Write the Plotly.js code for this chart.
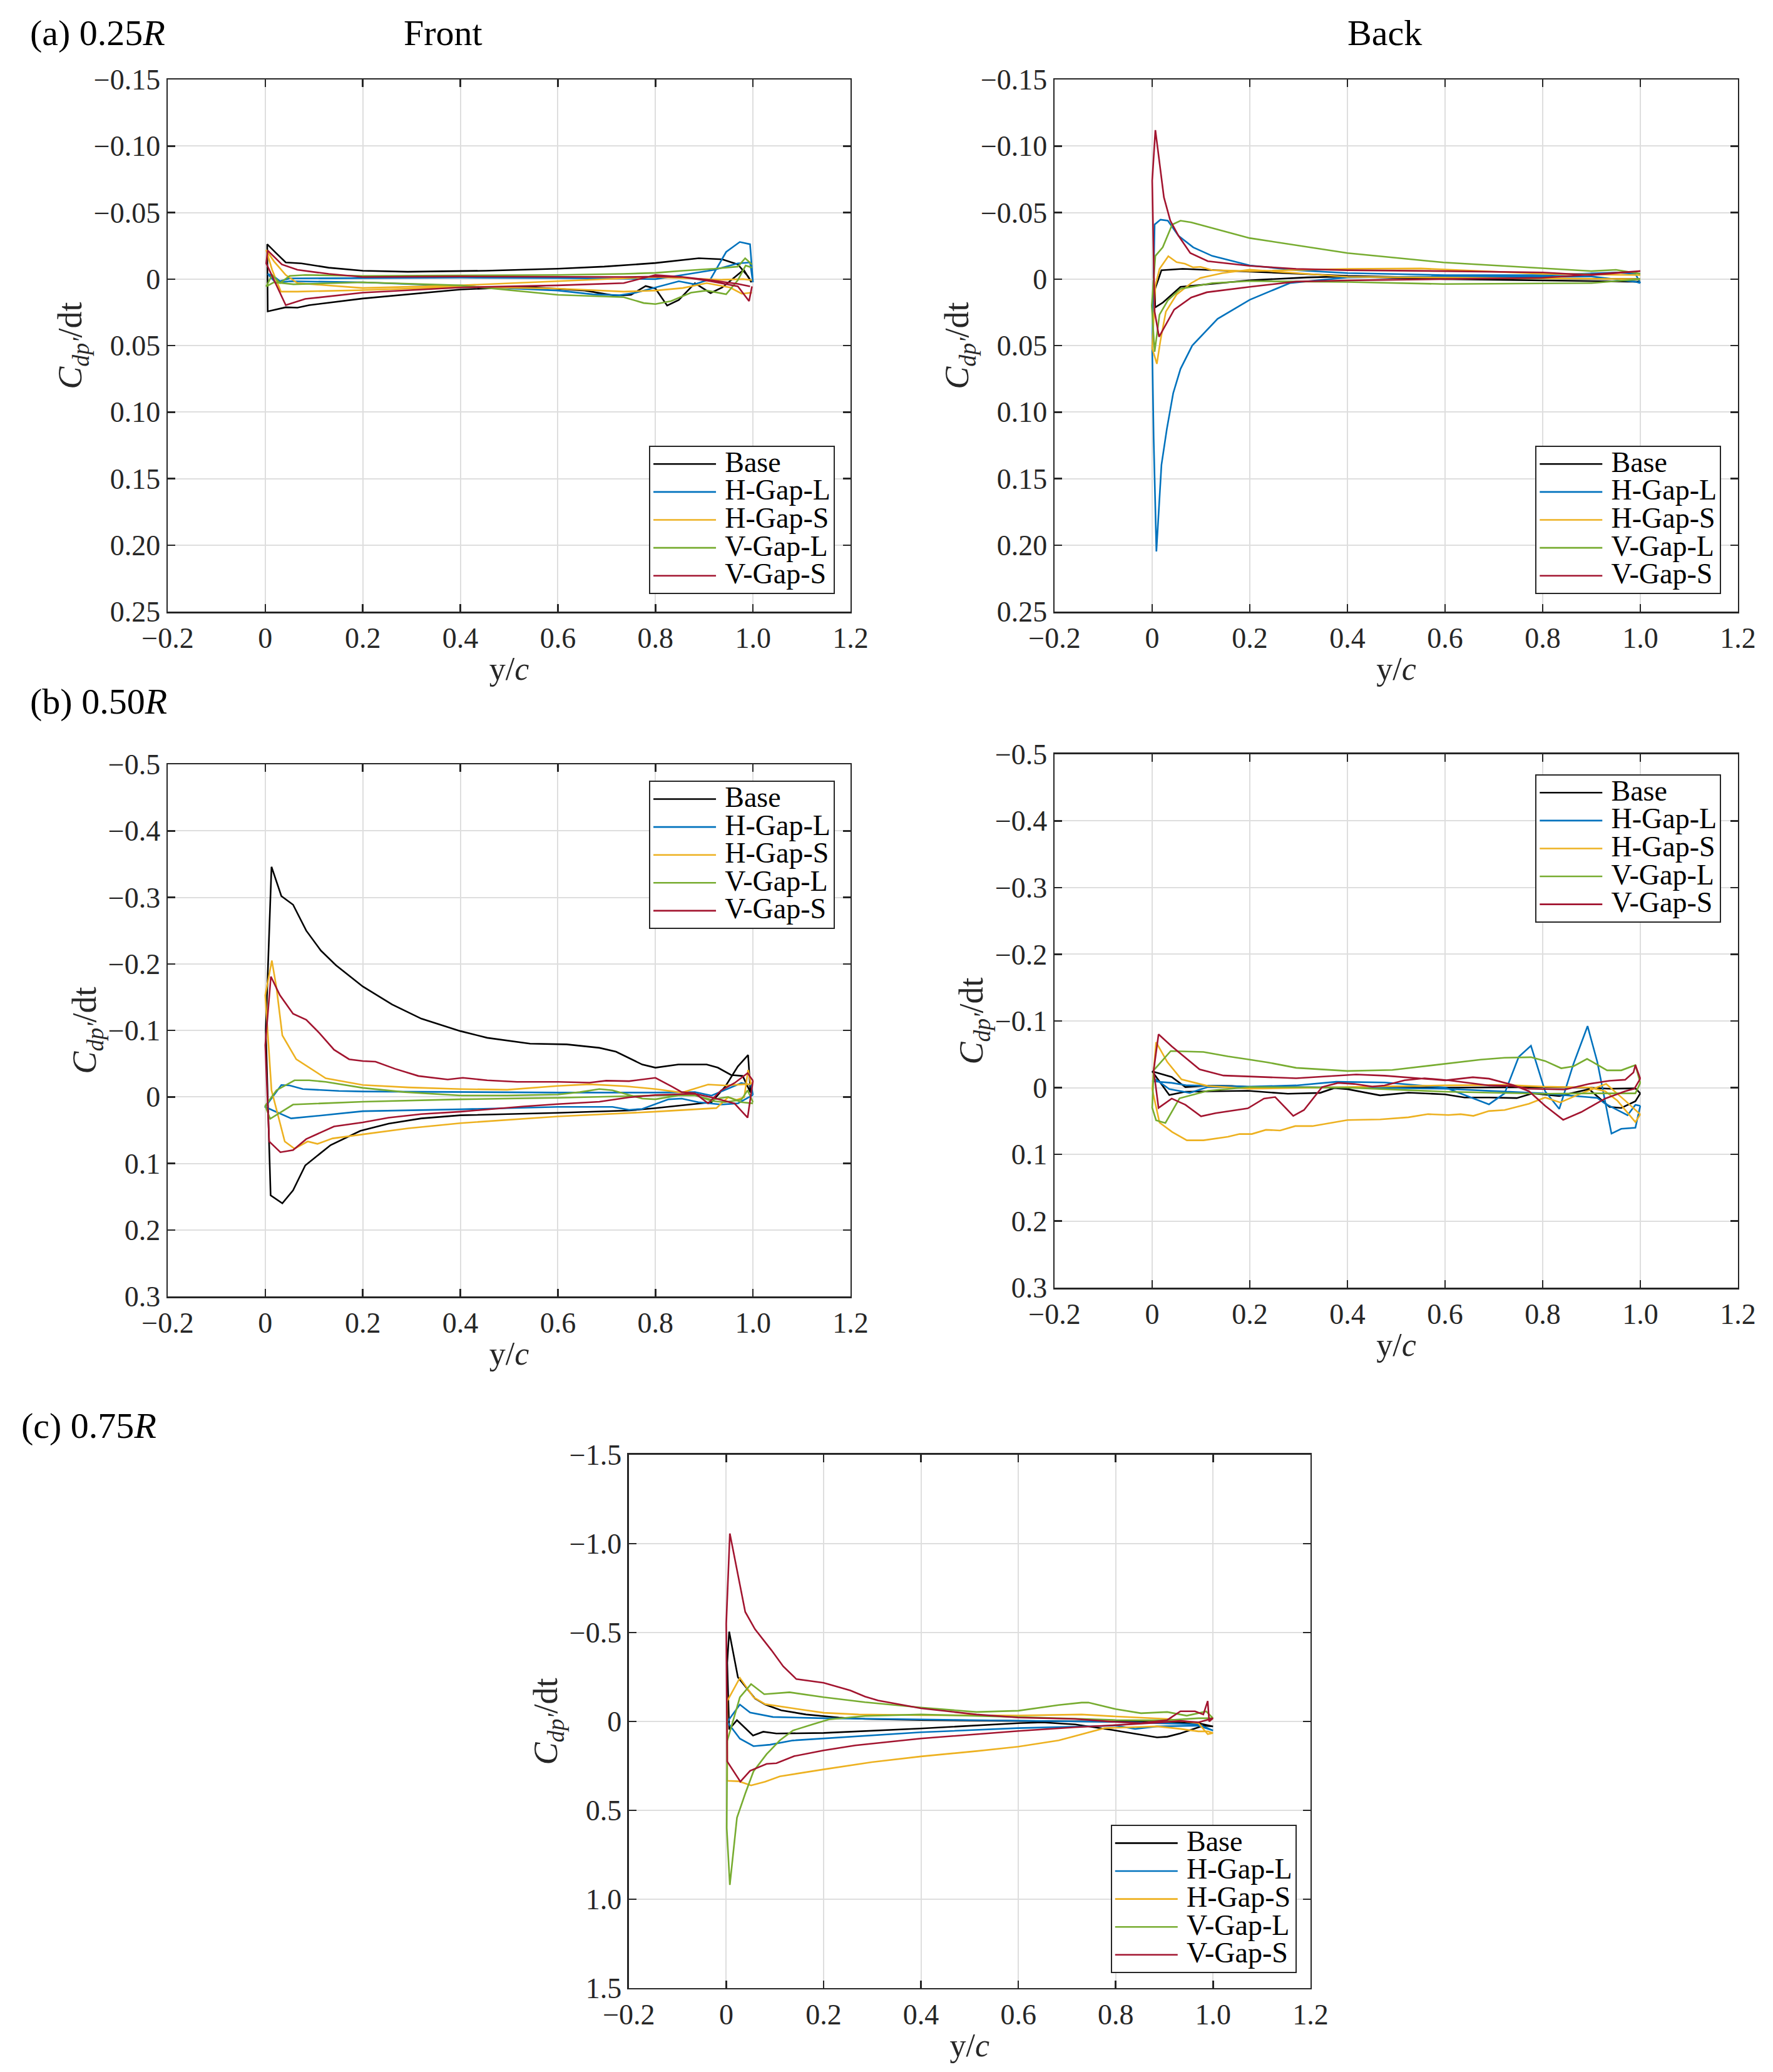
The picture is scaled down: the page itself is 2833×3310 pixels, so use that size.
<!DOCTYPE html>
<html>
<head>
<meta charset="utf-8">
<script src="https://cdn.plot.ly/plotly-3.0.1.min.js"></script>
<style>
  html, body { margin: 0; padding: 0; background: #fff; }
  #chart { width: 2833px; height: 3310px; }
</style>
</head>
<body>
<div id="chart"></div>
<script>
// series names, shared by every panel
var seriesNames = ['Base', 'H-Gap-L', 'H-Gap-S', 'V-Gap-L', 'V-Gap-S'];

// x ticks (y/c)
var xTickVals = [-0.2, 0, 0.2, 0.4, 0.6, 0.8, 1.0, 1.2];
var xTickText = ['\u22120.2', '0', '0.2', '0.4', '0.6', '0.8', '1.0', '1.2'];

// y ticks per row
var yTickValsA = [-0.15, -0.10, -0.05, 0, 0.05, 0.10, 0.15, 0.20, 0.25];
var yTickTextA = ['\u22120.15', '\u22120.10', '\u22120.05', '0', '0.05', '0.10', '0.15', '0.20', '0.25'];
var yTickValsB = [-0.5, -0.4, -0.3, -0.2, -0.1, 0, 0.1, 0.2, 0.3];
var yTickTextB = ['\u22120.5', '\u22120.4', '\u22120.3', '\u22120.2', '\u22120.1', '0', '0.1', '0.2', '0.3'];
var yTickValsC = [-1.5, -1.0, -0.5, 0, 0.5, 1.0, 1.5];
var yTickTextC = ['\u22121.5', '\u22121.0', '\u22120.5', '0', '0.5', '1.0', '1.5'];

/* ---- (a) 0.25R, front ---- */
var aF_base_x = [0.997,0.981,0.937,0.913,0.881,0.848,0.824,0.8,0.78,0.75,0.719,0.655,0.534,0.4,0.2,0.09,0.066,0.042,0.005,0.004,0.022,0.042,0.074,0.13,0.2,0.292,0.453,0.6,0.695,0.8,0.889,0.937,0.969,0.99,0.997];
var aF_base_y = [0.0024,-0.007,0.0063,0.0105,0.0031,0.0157,0.0199,0.0071,0.0052,0.0118,0.0125,0.0086,0.0058,0.0078,0.0146,0.0196,0.0215,0.0212,0.0243,-0.0262,-0.0196,-0.0125,-0.0118,-0.0086,-0.0063,-0.0055,-0.0063,-0.0078,-0.0094,-0.0121,-0.0157,-0.0149,-0.011,-0.002,0.0024];
var aF_hgl_x = [1.0,0.994,0.973,0.945,0.913,0.88,0.848,0.8,0.76,0.727,0.671,0.6,0.4,0.2,0.05,0.022,0.005,0.018,0.03,0.05,0.2,0.4,0.6,0.8,0.856,0.921,0.969,0.994,1.0];
var aF_hgl_y = [0.0024,-0.0262,-0.0279,-0.0204,0.0,0.0039,0.0016,0.0063,0.0102,0.0121,0.0114,0.0086,0.0052,0.0024,0.0016,0.003,-0.0039,-0.002,0.0016,-0.0005,-0.0008,-0.0011,-0.0008,0.0,-0.0031,-0.007,-0.0118,-0.0125,0.0024];
var aF_hgs_x = [0.998,0.977,0.953,0.905,0.856,0.8,0.735,0.6,0.4,0.2,0.066,0.032,0.014,0.002,0.018,0.042,0.066,0.2,0.4,0.6,0.8,0.937,0.98,0.998];
var aF_hgs_y = [0.0102,0.011,0.0063,0.003,0.0067,0.0086,0.0094,0.0071,0.0058,0.0083,0.0094,0.0094,-0.007,-0.0219,-0.0133,-0.0031,0.003,0.0067,0.0047,0.0016,-0.0016,0.0005,0.0,0.0008];
var aF_vgl_x = [0.998,0.985,0.969,0.945,0.905,0.873,0.832,0.8,0.776,0.735,0.6,0.4,0.2,0.058,0.018,0.002,0.014,0.03,0.05,0.082,0.2,0.4,0.6,0.735,0.8,0.856,0.921,0.969,0.984,0.998];
var aF_vgl_y = [-0.0086,-0.0102,0.0008,0.0114,0.0086,0.0102,0.0165,0.0188,0.018,0.0136,0.0118,0.0047,0.0024,0.0039,0.0024,0.0055,-0.0031,0.003,-0.0024,-0.0031,-0.0024,-0.0028,-0.0031,-0.0039,-0.0047,-0.0063,-0.0078,-0.0094,-0.0157,-0.011];
var aF_vgs_x = [0.998,0.992,0.969,0.913,0.856,0.8,0.735,0.6,0.4,0.2,0.082,0.042,0.002,0.005,0.034,0.066,0.13,0.2,0.4,0.6,0.735,0.8,0.856,0.913,0.969,0.994];
var aF_vgs_y = [0.0055,0.0165,0.0055,0.0016,-0.0016,-0.0031,0.003,0.0047,0.0063,0.0102,0.0149,0.0196,-0.0118,-0.0215,-0.011,-0.007,-0.0039,-0.0016,-0.002,-0.0016,-0.0016,-0.0019,-0.0016,0.0008,0.0036,0.0055];

/* ---- (a) 0.25R, back ---- */
var aB_base_x = [1.0,0.8,0.6,0.468,0.4,0.317,0.2,0.058,0.022,0.006,0.006,0.019,0.0625,0.2,0.4,0.6,0.8,1.0];
var aB_base_y = [0.002,0.001,0.0,-0.0013,-0.002,-0.0013,0.0009,0.0058,0.0176,0.0213,0.0073,-0.0067,-0.0077,-0.0056,-0.0024,-0.001,-0.0005,0.0];
var aB_hgl_x = [1.0,0.99,0.9,0.6,0.4,0.282,0.2,0.134,0.082,0.058,0.043,0.03,0.019,0.0086,0.003,0.0,0.005,0.017,0.032,0.054,0.084,0.123,0.2,0.295,0.4,0.6,0.8,0.95,0.99,1.0];
var aB_hgl_y = [0.003,0.002,-0.002,-0.002,-0.0013,0.003,0.0155,0.0299,0.05,0.0675,0.0858,0.1127,0.1396,0.2047,0.12,0.052,-0.041,-0.0447,-0.0439,-0.0325,-0.0239,-0.0174,-0.0103,-0.0067,-0.0045,-0.003,-0.003,-0.005,-0.004,0.003];
var aB_hgs_x = [1.0,0.6,0.4,0.2,0.144,0.099,0.08,0.05,0.028,0.017,0.0095,0.0,0.0065,0.015,0.033,0.05,0.067,0.084,0.099,0.123,0.2,0.4,0.55,0.8,1.0];
var aB_hgs_y = [0.0,-0.001,-0.0017,-0.0071,-0.0045,-0.0009,0.003,0.0116,0.0245,0.046,0.0637,0.052,0.005,-0.0077,-0.0172,-0.0127,-0.0116,-0.0088,-0.0092,-0.0067,-0.006,-0.0077,-0.008,-0.004,-0.003];
var aB_vgl_x = [1.0,0.9,0.597,0.4,0.2,0.123,0.058,0.032,0.015,0.005,-0.001,0.0065,0.0216,0.041,0.058,0.08,0.2,0.4,0.597,0.8,0.9,0.95,1.0];
var aB_vgl_y = [0.0,0.003,0.0037,0.0022,0.0015,0.003,0.0073,0.016,0.0267,0.0546,0.02,-0.0174,-0.0239,-0.041,-0.0439,-0.0426,-0.0308,-0.0196,-0.0125,-0.008,-0.006,-0.007,-0.004];
var aB_vgs_x = [1.0,0.8,0.4,0.295,0.2,0.112,0.08,0.045,0.014,0.005,0.0,0.0065,0.024,0.037,0.054,0.078,0.114,0.2,0.295,0.4,0.6,0.8,0.9,1.0];
var aB_vgs_y = [-0.006,-0.001,0.001,0.0019,0.0058,0.0099,0.0138,0.023,0.0434,0.0245,-0.074,-0.112,-0.0615,-0.044,-0.0325,-0.0196,-0.0135,-0.0099,-0.0077,-0.0067,-0.006,-0.005,-0.003,-0.006];

/* ---- (b) 0.50R, front ---- */
var bF_base_x = [0.995,0.99,0.969,0.943,0.915,0.861,0.8,0.746,0.6,0.4,0.32,0.253,0.195,0.134,0.082,0.057,0.035,0.011,0.001,0.0128,0.033,0.057,0.084,0.114,0.145,0.2,0.26,0.32,0.4,0.455,0.543,0.618,0.685,0.719,0.746,0.773,0.8,0.847,0.905,0.928,0.955,0.979,0.995];
var bF_base_y = [-0.0065,-0.063,-0.0459,-0.0154,0.0079,0.0122,0.0168,0.0204,0.024,0.0276,0.0323,0.0401,0.051,0.0724,0.103,0.1405,0.16,0.148,-0.1,-0.346,-0.302,-0.289,-0.25,-0.22,-0.198,-0.166,-0.139,-0.1176,-0.099,-0.0889,-0.08,-0.079,-0.0738,-0.068,-0.058,-0.0487,-0.044,-0.0487,-0.0487,-0.044,-0.033,-0.0315,-0.0065];
var bF_hgl_x = [1.0,0.969,0.935,0.888,0.854,0.827,0.773,0.746,0.712,0.6,0.4,0.2,0.104,0.053,0.016,0.0,0.033,0.05,0.077,0.151,0.2,0.4,0.6,0.8,0.881,0.915,0.942,0.976,0.996,1.0];
var bF_hgl_y = [-0.0029,0.0097,0.0115,0.0079,0.0025,0.0036,0.018,0.0194,0.015,0.015,0.0186,0.0215,0.0287,0.0323,0.0204,0.015,-0.0179,-0.0172,-0.0118,-0.009,-0.0082,-0.0072,-0.0065,-0.0065,-0.0072,-0.002,-0.01,-0.0208,-0.0179,-0.0029];
var bF_hgs_x = [0.996,0.99,0.982,0.966,0.949,0.925,0.8,0.6,0.4,0.293,0.2,0.138,0.107,0.087,0.06,0.04,0.0128,0.0,0.0135,0.023,0.035,0.0635,0.124,0.2,0.293,0.4,0.496,0.6,0.665,0.739,0.8,0.854,0.908,0.942,0.982,0.996];
var bF_hgs_y = [-0.019,-0.0405,0.0007,0.0043,0.0007,0.0168,0.0222,0.0294,0.0394,0.0473,0.0563,0.0624,0.0706,0.067,0.0778,0.067,-0.01,-0.153,-0.205,-0.164,-0.0925,-0.0566,-0.028,-0.0179,-0.0143,-0.0118,-0.0108,-0.0165,-0.019,-0.0161,-0.0118,-0.0065,-0.0186,-0.0172,-0.019,-0.019];
var bF_vgl_x = [1.0,0.976,0.949,0.915,0.881,0.8,0.6,0.4,0.2,0.057,0.01,0.0,0.023,0.06,0.09,0.124,0.2,0.286,0.4,0.496,0.6,0.645,0.685,0.712,0.746,0.773,0.8,0.847,0.881,0.915,0.942,0.976,0.989,1.0];
var bF_vgl_y = [0.0097,0.0079,0.0,0.0043,-0.0022,-0.0022,0.0014,0.0036,0.0072,0.0115,0.033,0.0133,-0.01,-0.025,-0.025,-0.0226,-0.0136,-0.0072,-0.0022,-0.0022,-0.0036,-0.0072,-0.0118,-0.01,-0.0029,0.0025,0.0036,-0.0022,-0.0029,0.0061,0.0079,0.0043,-0.01,0.0079];
var bF_vgs_x = [1.0,0.989,0.962,0.915,0.881,0.8,0.746,0.685,0.6,0.53,0.4,0.32,0.253,0.2,0.141,0.084,0.057,0.031,0.008,0.0,0.0115,0.03,0.057,0.084,0.111,0.141,0.172,0.2,0.226,0.266,0.314,0.374,0.405,0.455,0.516,0.6,0.665,0.699,0.746,0.8,0.834,0.854,0.881,0.908,0.935,0.962,0.989,1.0];
var bF_vgs_y = [-0.0244,0.0312,0.0097,0.0007,-0.0047,-0.0029,0.0007,0.0072,0.0108,0.0143,0.0222,0.0258,0.0312,0.0383,0.0444,0.0634,0.08,0.0832,0.067,-0.078,-0.181,-0.153,-0.125,-0.116,-0.096,-0.071,-0.0566,-0.054,-0.053,-0.0423,-0.0315,-0.0262,-0.0287,-0.025,-0.0226,-0.0226,-0.0215,-0.0244,-0.0237,-0.0287,-0.0154,-0.0072,-0.0054,0.0097,-0.01,-0.0208,-0.0358,-0.0244];

/* ---- (b) 0.50R, back ---- */
var bB_base_x = [1.0,0.99,0.961,0.937,0.895,0.834,0.78,0.747,0.69,0.64,0.6,0.525,0.467,0.4,0.373,0.344,0.278,0.196,0.068,0.035,0.0,0.04,0.068,0.114,0.163,0.2,0.4,0.6,0.8,0.895,0.937,0.99,1.0];
var bB_base_y = [0.0085,0.0203,0.0304,0.0288,0.0022,0.0125,0.0085,0.0156,0.0147,0.0147,0.01,0.0075,0.0116,0.0022,0.0006,0.0078,0.0091,0.0047,0.006,0.011,-0.0244,-0.016,-0.0009,-0.0031,-0.0025,-0.0009,-0.0003,0.0,-0.0009,0.0,0.0016,0.001,0.0085];
var bB_hgl_x = [1.0,0.99,0.974,0.928,0.912,0.8,0.6,0.4,0.114,0.077,0.035,0.008,0.0,0.04,0.072,0.2,0.295,0.377,0.476,0.6,0.69,0.722,0.751,0.776,0.805,0.834,0.863,0.892,0.912,0.941,0.961,0.99,1.0];
var bB_hgl_y = [0.0272,0.0257,0.0413,0.0241,0.0153,0.0085,0.0016,-0.0003,-0.0009,0.0078,0.0022,-0.012,-0.0097,-0.0072,-0.0034,-0.0016,-0.0034,-0.0088,-0.0078,-0.0003,0.025,0.0085,-0.0463,-0.0629,0.0053,0.0319,-0.0354,-0.0923,-0.0385,0.0689,0.0617,0.0601,0.0272];
var bB_hgs_x = [1.0,0.97,0.93,0.879,0.836,0.805,0.772,0.722,0.69,0.658,0.632,0.607,0.565,0.525,0.467,0.4,0.328,0.293,0.262,0.233,0.204,0.179,0.155,0.105,0.071,0.041,0.015,0.0,0.008,0.031,0.06,0.114,0.2,0.4,0.6,0.722,0.8,0.895,0.928,0.953,0.99,1.0];
var bB_hgs_y = [0.04,0.02,-0.0056,0.0085,0.0222,0.0147,0.0241,0.0335,0.035,0.0423,0.0397,0.041,0.0397,0.0444,0.0476,0.0485,0.0576,0.0576,0.0642,0.0632,0.0695,0.0695,0.0736,0.0789,0.0789,0.0664,0.0523,0.0022,-0.0682,-0.0385,-0.0125,-0.0025,0.0016,-0.0009,-0.0034,-0.0041,-0.0016,-0.0003,0.0053,0.0194,0.0516,0.04];
var bB_vgl_x = [1.0,0.99,0.9,0.8,0.6,0.4,0.2,0.114,0.056,0.027,0.008,0.0,0.003,0.038,0.105,0.155,0.2,0.237,0.295,0.4,0.492,0.6,0.673,0.722,0.776,0.805,0.838,0.863,0.891,0.932,0.961,0.99,1.0];
var bB_vgl_y = [-0.0072,0.0085,0.0085,0.0091,0.006,0.0,-0.0009,0.0047,0.016,0.053,0.049,0.03,-0.026,-0.055,-0.0535,-0.047,-0.042,-0.0379,-0.0297,-0.025,-0.0266,-0.036,-0.042,-0.0448,-0.0457,-0.04,-0.0291,-0.032,-0.0432,-0.026,-0.026,-0.0338,-0.0072];
var bB_vgs_x = [1.0,0.99,0.986,0.969,0.937,0.895,0.846,0.772,0.739,0.69,0.607,0.558,0.517,0.476,0.451,0.414,0.381,0.348,0.311,0.289,0.252,0.229,0.196,0.13,0.1,0.068,0.04,0.013,0.003,0.013,0.04,0.068,0.097,0.146,0.2,0.295,0.336,0.418,0.476,0.55,0.6,0.657,0.69,0.739,0.772,0.805,0.842,0.879,0.928,0.969,0.988,1.0];
var bB_vgs_y = [-0.0135,-0.0338,-0.0228,-0.0119,-0.0103,-0.0056,0.0028,0.0016,-0.0025,-0.0034,-0.011,-0.0141,-0.011,-0.0034,-0.0016,-0.0056,-0.0072,-0.0009,0.0335,0.0423,0.0141,0.0163,0.031,0.0382,0.0429,0.0257,0.0163,0.0304,-0.026,-0.08,-0.062,-0.0448,-0.0275,-0.0182,-0.0166,-0.0141,-0.016,-0.0197,-0.018,-0.0135,-0.011,-0.0156,-0.0135,-0.0041,0.0053,0.0272,0.0482,0.0366,0.0163,0.0053,0.0016,-0.0135];

/* ---- (c) 0.75R ---- */
var c_base_x = [1.0,0.98,0.933,0.906,0.885,0.8,0.717,0.65,0.6,0.4,0.2,0.103,0.076,0.055,0.022,0.006,0.002,0.006,0.024,0.059,0.08,0.113,0.164,0.231,0.285,0.4,0.6,0.8,0.906,0.97,1.0];
var c_base_y = [0.028,0.024,0.067,0.086,0.09,0.051,0.0167,0.0056,0.0097,0.04,0.065,0.068,0.058,0.079,-0.007,0.045,-0.33,-0.505,-0.248,-0.129,-0.0946,-0.0626,-0.039,-0.022,-0.014,-0.008,-0.003,0.0,0.003,0.0097,0.028];
var c_hgl_x = [1.0,0.97,0.885,0.84,0.8,0.6,0.4,0.2,0.137,0.09,0.056,0.028,0.002,0.028,0.049,0.096,0.2,0.4,0.6,0.8,0.97,1.0];
var c_hgl_y = [0.051,0.024,0.028,0.042,0.0236,0.0376,0.061,0.096,0.107,0.131,0.139,0.097,0.003,-0.0946,-0.05,-0.025,-0.018,-0.011,-0.003,0.003,0.0167,0.051];
var c_hgs_x = [1.0,0.989,0.97,0.933,0.885,0.8,0.777,0.73,0.683,0.6,0.514,0.4,0.299,0.2,0.11,0.08,0.051,0.026,0.002,0.002,0.028,0.056,0.08,0.137,0.2,0.272,0.4,0.6,0.73,0.8,0.906,0.97,0.989,1.0];
var c_hgs_y = [0.065,0.056,0.056,0.042,0.028,0.035,0.0376,0.072,0.107,0.142,0.167,0.197,0.229,0.27,0.309,0.339,0.36,0.337,0.334,-0.115,-0.245,-0.136,-0.097,-0.0737,-0.0487,-0.039,-0.035,-0.0334,-0.039,-0.028,-0.014,0.0097,0.072,0.065];
var c_vgl_x = [1.0,0.97,0.906,0.8,0.6,0.4,0.285,0.211,0.177,0.137,0.11,0.083,0.056,0.039,0.022,0.0074,0.001,0.002,0.028,0.051,0.078,0.13,0.2,0.285,0.4,0.514,0.6,0.683,0.73,0.744,0.8,0.852,0.906,0.946,0.986,1.0];
var c_vgl_y = [-0.018,-0.018,-0.007,-0.008,-0.025,-0.039,-0.0306,-0.011,0.0167,0.051,0.107,0.184,0.281,0.406,0.542,0.92,0.6,0.11,-0.136,-0.21,-0.153,-0.164,-0.136,-0.108,-0.078,-0.053,-0.06,-0.092,-0.106,-0.106,-0.0695,-0.046,-0.053,-0.032,-0.056,-0.018];
var c_vgs_x = [1.0,0.97,0.933,0.885,0.8,0.717,0.6,0.4,0.265,0.2,0.14,0.103,0.083,0.049,0.029,0.002,0.0,0.0074,0.039,0.059,0.093,0.117,0.144,0.2,0.255,0.285,0.312,0.4,0.514,0.6,0.717,0.8,0.852,0.906,0.933,0.963,0.98,0.989,0.992,1.0];
var c_vgs_y = [-0.018,0.0056,-0.003,0.007,0.021,0.033,0.054,0.096,0.135,0.163,0.195,0.235,0.239,0.278,0.339,0.225,-0.55,-1.057,-0.616,-0.519,-0.4,-0.31,-0.238,-0.217,-0.174,-0.14,-0.118,-0.0737,-0.039,-0.022,-0.014,0.003,0.0097,-0.008,-0.057,-0.057,-0.039,-0.115,0.0,-0.018];

// MATLAB default colour order, Base in black
var colors = ['#000000', '#0072BD', '#EDB120', '#77AC30', '#A2142F'];
var serif = 'Liberation Serif, Times New Roman, serif';
var axisColor = '#262626';

var panels = [
  {xs: [aF_base_x, aF_hgl_x, aF_hgs_x, aF_vgl_x, aF_vgs_x], ys: [aF_base_y, aF_hgl_y, aF_hgs_y, aF_vgl_y, aF_vgs_y], n: ''},
  {xs: [aB_base_x, aB_hgl_x, aB_hgs_x, aB_vgl_x, aB_vgs_x], ys: [aB_base_y, aB_hgl_y, aB_hgs_y, aB_vgl_y, aB_vgs_y], n: '2'},
  {xs: [bF_base_x, bF_hgl_x, bF_hgs_x, bF_vgl_x, bF_vgs_x], ys: [bF_base_y, bF_hgl_y, bF_hgs_y, bF_vgl_y, bF_vgs_y], n: '3'},
  {xs: [bB_base_x, bB_hgl_x, bB_hgs_x, bB_vgl_x, bB_vgs_x], ys: [bB_base_y, bB_hgl_y, bB_hgs_y, bB_vgl_y, bB_vgs_y], n: '4'},
  {xs: [c_base_x, c_hgl_x, c_hgs_x, c_vgl_x, c_vgs_x], ys: [c_base_y, c_hgl_y, c_hgs_y, c_vgl_y, c_vgs_y], n: '5'}
];

var data = [];
panels.forEach(function(p) {
  for (var i = 0; i < seriesNames.length; i++) {
    data.push({
      x: p.xs[i],
      y: p.ys[i],
      type: 'scatter',
      mode: 'lines',
      // legend rows in the figure are packed tighter than plotly's default spacing,
      // so the row height comes from a small legend font and the label gets its real size here
      name: '<span style="font-size:46px">\u2009' + seriesNames[i] + '</span>',
      line: {color: colors[i], width: 2.6},
      xaxis: 'x' + p.n,
      yaxis: 'y' + p.n,
      legend: 'legend' + p.n
    });
  }
});

function xAxis(domain, anchor) {
  return {
    domain: domain, anchor: anchor,
    range: [-0.2, 1.2],
    tickvals: xTickVals, ticktext: xTickText,
    showgrid: true, gridcolor: '#dedede', gridwidth: 2,
    zeroline: false,
    showline: true, linecolor: axisColor, linewidth: 2.5, mirror: 'ticks',
    ticks: 'inside', ticklen: 12, tickwidth: 2.5, tickcolor: axisColor,
    tickfont: {family: serif, size: 46, color: axisColor},
    title: {text: 'y/<i>c</i>', font: {family: serif, size: 52, color: axisColor}, standoff: 6}
  };
}

function yAxis(domain, anchor, range, vals, text) {
  return {
    domain: domain, anchor: anchor,
    range: range,
    tickvals: vals, ticktext: text,
    showgrid: true, gridcolor: '#dedede', gridwidth: 2,
    zeroline: false,
    showline: true, linecolor: axisColor, linewidth: 2.5, mirror: 'ticks',
    ticks: 'inside', ticklen: 12, tickwidth: 2.5, tickcolor: axisColor,
    tickfont: {family: serif, size: 46, color: axisColor},
    title: {text: '<i>C</i><sub><i>dp\u2032</i></sub>/dt', font: {family: serif, size: 54, color: axisColor}, standoff: 2}
  };
}

function legendBox(x, y, yanchor) {
  return {
    x: x, y: y, xanchor: 'right', yanchor: yanchor,
    bgcolor: '#ffffff', bordercolor: axisColor, borderwidth: 2,
    font: {family: serif, size: 32, color: '#000000'},
    itemwidth: 100, tracegroupgap: 0
  };
}

var titleFont = {family: serif, size: 58, color: '#000000'};

var layout = {
  width: 2833, height: 3310,
  margin: {l: 0, r: 0, t: 0, b: 0},
  paper_bgcolor: '#ffffff', plot_bgcolor: '#ffffff',
  showlegend: true,
  xaxis: xAxis([0.0946, 0.4797], 'y'),
  yaxis: yAxis([0.7048, 0.9616], 'x', [0.25, -0.15], yTickValsA, yTickTextA),
  xaxis2: xAxis([0.5948, 0.9802], 'y2'),
  yaxis2: yAxis([0.7048, 0.9616], 'x2', [0.25, -0.15], yTickValsA, yTickTextA),
  xaxis3: xAxis([0.0946, 0.4797], 'y3'),
  yaxis3: yAxis([0.3743, 0.6311], 'x3', [0.3, -0.5], yTickValsB, yTickTextB),
  xaxis4: xAxis([0.5948, 0.9802], 'y4'),
  yaxis4: yAxis([0.3785, 0.6360], 'x4', [0.3, -0.5], yTickValsB, yTickTextB),
  xaxis5: xAxis([0.3547, 0.7391], 'y5'),
  yaxis5: yAxis([0.0405, 0.2979], 'x5', [1.5, -1.5], yTickValsC, yTickTextC),
  legend: legendBox(0.4709, 0.7133, 'bottom'),
  legend2: legendBox(0.9708, 0.7133, 'bottom'),
  legend3: legendBox(0.4709, 0.6232, 'top'),
  legend4: legendBox(0.9708, 0.6263, 'top'),
  legend5: legendBox(0.7313, 0.0477, 'bottom'),
  annotations: [
    {text: '(a) 0.25<i>R</i>', x: 0.0163, y: 0.984, xref: 'paper', yref: 'paper', xanchor: 'left', yanchor: 'middle', showarrow: false, font: titleFont},
    {text: 'Front', x: 0.25, y: 0.984, xref: 'paper', yref: 'paper', xanchor: 'center', yanchor: 'middle', showarrow: false, font: titleFont},
    {text: 'Back', x: 0.781, y: 0.984, xref: 'paper', yref: 'paper', xanchor: 'center', yanchor: 'middle', showarrow: false, font: titleFont},
    {text: '(b) 0.50<i>R</i>', x: 0.0163, y: 0.6616, xref: 'paper', yref: 'paper', xanchor: 'left', yanchor: 'middle', showarrow: false, font: titleFont},
    {text: '(c) 0.75<i>R</i>', x: 0.0112, y: 0.312, xref: 'paper', yref: 'paper', xanchor: 'left', yanchor: 'middle', showarrow: false, font: titleFont}
  ]
};

Plotly.newPlot('chart', data, layout, {displayModeBar: false, staticPlot: true});
</script>
</body>
</html>
